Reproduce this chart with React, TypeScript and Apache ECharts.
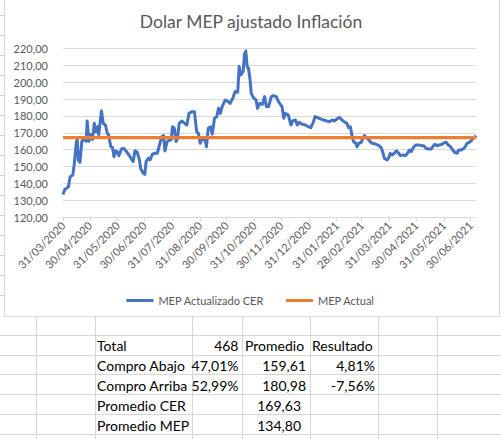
import React, { useEffect, useRef } from "react";
import * as echarts from "echarts";

const chartTitle = "Dolar MEP ajustado Inflación";
const seriesNames = ["MEP Actualizado CER", "MEP Actual"];

// x axis: days since 31/03/2020
const xMaxDay = 462;
const tickDays = [0, 30, 61, 91, 122, 153, 183, 214, 244, 275, 306, 334, 365, 395, 426, 456];
const tickLabels = [
  "31/03/2020", "30/04/2020", "31/05/2020", "30/06/2020", "31/07/2020", "31/08/2020",
  "30/09/2020", "31/10/2020", "30/11/2020", "31/12/2020", "31/01/2021", "28/02/2021",
  "31/03/2021", "30/04/2021", "31/05/2021", "30/06/2021",
];

const cerDays = [
  0, 2, 6, 8, 11, 12.5, 15, 16, 17, 19, 21, 23, 26, 27, 29, 31, 33, 35, 37, 38.5, 40, 43, 45, 47.5,
  49.5, 51, 53.5, 55.5, 57, 59, 60.5, 62.5, 65.5, 68, 71, 75, 77, 78.5, 80.5, 83, 85.5, 87, 90, 91.5,
  93, 95.5, 97.5, 100, 103, 105.5, 108, 110.5, 112.5, 114, 116.5, 119, 121, 122.5, 124.5, 126.5, 128,
  130, 133, 136, 138.5, 141, 144, 147, 149.5, 151.5, 153.5, 155, 157, 159, 160.5, 162.5, 165, 167,
  169.5, 172, 174, 176, 178, 181.5, 184, 187, 190, 192.5, 195.5, 197, 199, 201.5, 203, 204.5, 206,
  207.5, 209.5, 210.5, 213, 216, 217.5, 220, 223, 225.5, 227.5, 230, 233, 235.5, 238.5, 241, 245,
  247, 248.5, 252, 255, 257, 260, 262, 264.5, 267, 271, 274.5, 277, 279.5, 282, 285, 288, 291.5, 295,
  298, 301, 303.5, 306.5, 309.5, 312, 314.5, 317.5, 319.5, 321.5, 323.5, 325, 327.5, 329, 331, 333.5,
  335.5, 337, 339.5, 342, 345.5, 349, 353, 356, 357.5, 359.5, 362.5, 364.5, 366, 368, 370.5, 373,
  375.5, 377.5, 380, 383, 385.5, 387.5, 389.5, 392.5, 395, 398, 401, 403.5, 406, 409, 412, 413.5, 416,
  418.5, 421, 424, 426.5, 428.5, 431, 433.5, 436, 438, 441, 442.5, 445.5, 448.5, 450, 452, 454.5,
  456.5, 458, 460.5, 462,
];
const cerValues = [
  133.5, 136.5, 138, 144, 145, 151, 164.8, 166, 154, 152.5, 164.8, 166, 165, 177, 165, 169, 166, 175.6,
  170.7, 173.6, 169, 183, 175.6, 174.6, 169.7, 168.7, 161.8, 161.2, 155.9, 159.3, 158.9, 156.5, 160.4,
  160.8, 158.9, 155.9, 154, 153, 159.3, 158.5, 154, 148.6, 146, 145.4, 153, 155, 154, 157.3, 157.9,
  157.9, 162.8, 167.7, 168.3, 159.3, 164.8, 165.8, 165.8, 173.6, 172.7, 164.8, 166.7, 175.6, 177,
  175.6, 174.6, 181.5, 182.5, 182.5, 170.7, 169.7, 163.8, 166.7, 165.8, 165.8, 161.8, 172.7, 173.6,
  169.2, 178.6, 179.6, 184.5, 181.5, 185.5, 189.4, 188.8, 187.4, 190.4, 194.4, 194, 209.2, 204.2,
  206.2, 216.4, 218.4, 209.2, 208.2, 200.3, 193.4, 190.8, 189.4, 184.5, 187.4, 186.8, 191.4, 185.5,
  185.5, 191.4, 192, 191.4, 188.4, 185.5, 178.6, 181.5, 180.6, 174.6, 177, 177.6, 174.6, 176.2, 175.2,
  174.6, 173.6, 173, 175.6, 179.6, 179, 178.2, 177.6, 177, 176.6, 177.6, 177, 178.2, 179, 177.6, 176.6,
  175.6, 173, 173.6, 167.7, 164.8, 163.8, 161.8, 163.8, 164.4, 166.7, 168.3, 167.1, 165.8, 163.8,
  163.5, 162.6, 161.2, 158.9, 154.9, 153.9, 155.3, 157.9, 156.9, 157.9, 159.3, 157.9, 156.5, 156.9,
  156.5, 157.9, 159.8, 158.9, 161.8, 162.8, 162.8, 162.4, 162.4, 160.8, 160.4, 160.4, 161.8, 163.2,
  162.4, 162.8, 163.2, 164.2, 164.4, 162.8, 161.8, 159.8, 158.5, 157.9, 159.8, 159.8, 160.8, 161.8,
  163.8, 164.4, 165.2, 166.4, 167.1, 168.3,
];
const mepActual = 167.2;

// table below the chart
const tableLabels = ["Total", "Compro Abajo", "Compro Arriba", "Promedio CER", "Promedio MEP"];
const tableCol2 = ["468", "47,01%", "52,99%", "", ""];
const tableCol3 = ["Promedio", "159,61", "180,98", "169,63", "134,80"];
const tableCol4 = ["Resultado", "4,81%", "-7,56%", "", ""];

const FONT = "Lato, 'Open Sans', sans-serif";

export default function App() {
  const ref = useRef<HTMLDivElement>(null);

  useEffect(() => {
    if (!ref.current) return;
    const chart = echarts.init(ref.current, undefined, { renderer: "svg" });

    const sheetStroke = "#d6d6d6";
    const elements: any[] = [];
    // sheet gridlines left of the chart
    for (let y = 15; y <= 295; y += 20) {
      elements.push({
        type: "line", silent: true,
        shape: { x1: 0, y1: y + 0.5, x2: 4, y2: y + 0.5 },
        style: { stroke: sheetStroke, lineWidth: 1 },
      });
    }
    // sheet gridlines below the chart
    [335, 355, 374, 394, 414, 434].forEach((y) => {
      elements.push({
        type: "line", silent: true,
        shape: { x1: 0, y1: y + 0.5, x2: 501, y2: y + 0.5 },
        style: { stroke: sheetStroke, lineWidth: 1 },
      });
    });
    [36, 95, 192, 242, 310, 378, 437].forEach((x) => {
      elements.push({
        type: "line", silent: true,
        shape: { x1: x + 0.5, y1: 316, x2: x + 0.5, y2: 439 },
        style: { stroke: sheetStroke, lineWidth: 1 },
      });
    });
    // chart area border
    elements.push({
      type: "rect", silent: true,
      shape: { x: 4.5, y: -10, width: 495, height: 326.5 },
      style: { fill: "none", stroke: "#d9d9d9", lineWidth: 1 },
    });
    // title
    elements.push({
      type: "text", silent: true, x: 251, y: 21,
      style: {
        text: chartTitle, fill: "#595959", font: `17.5px ${FONT}`,
        textAlign: "center", textVerticalAlign: "middle",
      },
    });
    // table texts
    const rowY = [345, 365, 385, 405, 425];
    const tStyle = (text: string, align: string) => ({
      text, fill: "#000000", font: `14px ${FONT}`, textAlign: align, textVerticalAlign: "middle",
    });
    tableLabels.forEach((t, i) => {
      elements.push({ type: "text", silent: true, x: 97, y: rowY[i], style: tStyle(t, "left") });
    });
    tableCol2.forEach((t, i) => {
      if (t) elements.push({ type: "text", silent: true, x: 238.5, y: rowY[i], style: tStyle(t, "right") });
    });
    tableCol3.forEach((t, i) => {
      if (!t) return;
      if (i === 0) elements.push({ type: "text", silent: true, x: 245, y: rowY[i], style: tStyle(t, "left") });
      else elements.push({ type: "text", silent: true, x: i >= 3 ? 301 : 306, y: rowY[i], style: tStyle(t, "right") });
    });
    tableCol4.forEach((t, i) => {
      if (!t) return;
      if (i === 0) elements.push({ type: "text", silent: true, x: 312, y: rowY[i], style: tStyle(t, "left") });
      else elements.push({ type: "text", silent: true, x: 375, y: rowY[i], style: tStyle(t, "right") });
    });

    const labelFor = (v: number) => {
      const idx = tickDays.indexOf(Math.round(v));
      return idx >= 0 ? tickLabels[idx] : "";
    };

    chart.setOption({
      animation: false,
      backgroundColor: "#ffffff",
      textStyle: { fontFamily: FONT },
      grid: {
        left: 63, right: 25, top: 48.3, bottom: 439 - 217.3,
        containLabel: false, outerBoundsMode: "none",
      },
      legend: {
        data: seriesNames,
        left: "center",
        top: 290,
        icon: "rect",
        itemWidth: 27,
        itemHeight: 3,
        itemGap: 22,
        textStyle: { fontSize: 11, color: "#595959", fontFamily: FONT },
      },
      xAxis: {
        type: "value",
        min: 0,
        max: xMaxDay,
        splitLine: { show: false },
        axisLine: { show: true, lineStyle: { color: "#d9d9d9", width: 1 } },
        axisTick: {
          show: true, length: 4, customValues: tickDays,
          lineStyle: { color: "#d9d9d9" },
        },
        axisLabel: {
          customValues: tickDays,
          rotate: 45,
          margin: 6,
          fontSize: 11,
          color: "#595959",
          fontFamily: FONT,
          formatter: (v: number) => labelFor(v),
        },
      },
      yAxis: {
        type: "value",
        min: 120,
        max: 220,
        interval: 10,
        axisLine: { show: false },
        axisTick: { show: false },
        splitLine: { lineStyle: { color: "#d9d9d9", width: 1 } },
        axisLabel: {
          margin: 15,
          fontSize: 11,
          color: "#595959",
          fontFamily: FONT,
          formatter: (v: number) => v.toFixed(2).replace(".", ","),
        },
      },
      series: [
        {
          name: seriesNames[0],
          type: "line",
          data: cerDays.map((d, i) => [d, cerValues[i]]),
          showSymbol: false,
          symbol: "none",
          lineStyle: { color: "#4472C4", width: 3, join: "round" },
          itemStyle: { color: "#4472C4" },
          z: 3,
        },
        {
          name: seriesNames[1],
          type: "line",
          data: [[0, mepActual], [xMaxDay, mepActual]],
          showSymbol: false,
          symbol: "none",
          lineStyle: { color: "#ED7D31", width: 3.3 },
          itemStyle: { color: "#ED7D31" },
          z: 4,
        },
      ],
      graphic: { elements },
    });

    return () => chart.dispose();
  }, []);

  return (
    <div
      ref={ref}
      style={{ position: "fixed", left: 0, top: 0, width: 501, height: 439, background: "#ffffff" }}
    />
  );
}
